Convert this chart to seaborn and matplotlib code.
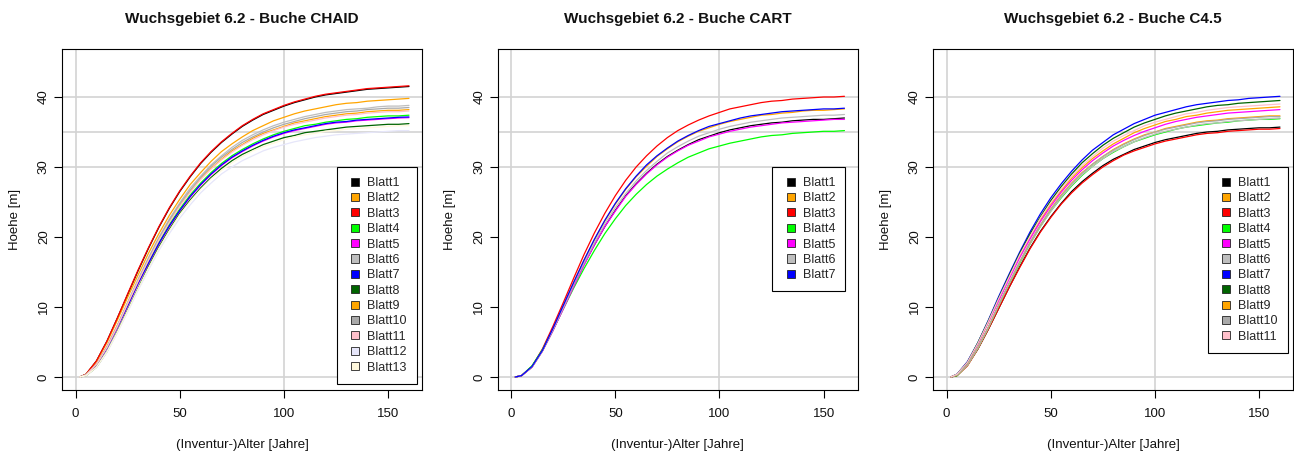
import matplotlib
matplotlib.use("Agg")
import matplotlib.pyplot as plt
import pandas as pd
import seaborn as sns
from matplotlib.patches import Patch, Rectangle
from matplotlib.legend_handler import HandlerPatch

alter = [2, 5, 10, 15, 20, 25, 30, 35, 40, 45, 50, 55, 60, 65, 70, 75, 80,
         85, 90, 95, 100, 105, 110, 115, 120, 125, 130, 135, 140, 145, 150, 155, 160]

blatt_farben = ["#000000", "#FFA500", "#FF0000", "#00FF00", "#FF00FF", "#BEBEBE",
                "#0000FF", "#006400", "#FFA500", "#A9A9A9", "#FFC0CB", "#E6E6FA",
                "#FFF8DC"]

titel = ["Wuchsgebiet 6.2 - Buche CHAID",
         "Wuchsgebiet 6.2 - Buche CART",
         "Wuchsgebiet 6.2 - Buche C4.5"]

# Hoehe [m] je Blatt, CHAID-Baum (13 Blaetter)
hoehe_chaid = [
    [0, 0.4, 2.3, 5.1, 8.4, 11.8, 15.2, 18.4, 21.4, 24.1, 26.5, 28.6, 30.5, 32.1, 33.5, 34.7, 35.8, 36.7, 37.5, 38.1, 38.7, 39.2, 39.6, 40.0, 40.3, 40.5, 40.7, 40.9, 41.1, 41.2, 41.3, 41.4, 41.5],
    [0, 0.4, 2.2, 4.9, 8.1, 11.4, 14.6, 17.7, 20.5, 23.1, 25.4, 27.5, 29.2, 30.8, 32.2, 33.3, 34.3, 35.2, 35.9, 36.6, 37.1, 37.6, 38.0, 38.3, 38.6, 38.9, 39.1, 39.2, 39.4, 39.5, 39.6, 39.7, 39.8],
    [0, 0.4, 2.3, 5.1, 8.4, 11.9, 15.3, 18.5, 21.5, 24.2, 26.6, 28.7, 30.6, 32.2, 33.6, 34.8, 35.9, 36.8, 37.6, 38.2, 38.8, 39.3, 39.7, 40.1, 40.4, 40.6, 40.8, 41.0, 41.2, 41.3, 41.4, 41.5, 41.6],
    [0, 0.3, 1.7, 4.2, 7.1, 10.3, 13.4, 16.5, 19.2, 21.8, 24.0, 26.0, 27.7, 29.2, 30.5, 31.6, 32.5, 33.3, 34.0, 34.6, 35.1, 35.5, 35.9, 36.1, 36.4, 36.6, 36.8, 36.9, 37.1, 37.2, 37.3, 37.3, 37.4],
    [0, 0.3, 1.7, 4.1, 7.0, 10.1, 13.3, 16.2, 19.0, 21.5, 23.7, 25.7, 27.4, 28.9, 30.2, 31.3, 32.2, 33.0, 33.7, 34.3, 34.8, 35.2, 35.5, 35.8, 36.1, 36.3, 36.4, 36.6, 36.7, 36.8, 36.9, 37.0, 37.05],
    [0, 0.3, 1.8, 4.3, 7.4, 10.7, 14.0, 17.1, 20.0, 22.6, 24.9, 27.0, 28.7, 30.3, 31.6, 32.8, 33.8, 34.6, 35.3, 35.9, 36.4, 36.8, 37.2, 37.5, 37.8, 38.0, 38.2, 38.3, 38.4, 38.6, 38.7, 38.7, 38.8],
    [0, 0.3, 1.7, 4.1, 7.1, 10.2, 13.4, 16.3, 19.1, 21.6, 23.8, 25.8, 27.5, 29.0, 30.3, 31.4, 32.3, 33.1, 33.8, 34.4, 34.9, 35.3, 35.6, 35.9, 36.2, 36.4, 36.5, 36.7, 36.8, 36.9, 37.0, 37.1, 37.15],
    [0, 0.2, 1.4, 3.6, 6.5, 9.6, 12.7, 15.8, 18.6, 21.1, 23.4, 25.3, 27.0, 28.5, 29.8, 30.9, 31.8, 32.5, 33.2, 33.7, 34.2, 34.5, 34.9, 35.1, 35.3, 35.5, 35.7, 35.8, 35.9, 36.0, 36.1, 36.1, 36.2],
    [0, 0.3, 1.8, 4.3, 7.3, 10.5, 13.7, 16.8, 19.7, 22.2, 24.5, 26.5, 28.3, 29.8, 31.1, 32.3, 33.2, 34.1, 34.8, 35.3, 35.8, 36.3, 36.6, 36.9, 37.2, 37.4, 37.6, 37.7, 37.9, 38.0, 38.1, 38.1, 38.2],
    [0, 0.3, 1.8, 4.3, 7.3, 10.6, 13.8, 16.9, 19.8, 22.4, 24.7, 26.7, 28.5, 30.1, 31.4, 32.5, 33.5, 34.3, 35.0, 35.6, 36.1, 36.5, 36.9, 37.2, 37.5, 37.7, 37.9, 38.0, 38.2, 38.3, 38.4, 38.4, 38.5],
    [0, 0.3, 1.8, 4.2, 7.2, 10.5, 13.7, 16.7, 19.6, 22.1, 24.4, 26.4, 28.2, 29.7, 31.0, 32.1, 33.1, 33.9, 34.6, 35.2, 35.7, 36.1, 36.4, 36.7, 37.0, 37.2, 37.4, 37.5, 37.7, 37.8, 37.9, 37.9, 38.0],
    [0, 0.2, 1.4, 3.5, 6.3, 9.3, 12.4, 15.3, 18.1, 20.5, 22.7, 24.6, 26.3, 27.7, 29.0, 30.0, 30.9, 31.6, 32.3, 32.8, 33.2, 33.6, 33.9, 34.2, 34.4, 34.6, 34.7, 34.8, 34.9, 35.0, 35.1, 35.2, 35.2],
    [0, 0.2, 1.4, 3.6, 6.4, 9.5, 12.6, 15.6, 18.4, 20.9, 23.2, 25.1, 26.8, 28.3, 29.5, 30.6, 31.5, 32.3, 32.9, 33.4, 33.9, 34.3, 34.6, 34.8, 35.1, 35.2, 35.4, 35.5, 35.6, 35.7, 35.8, 35.9, 35.9],
]

# Hoehe [m] je Blatt, CART-Baum (7 Blaetter)
hoehe_cart = [
    [0, 0.2, 1.4, 3.7, 6.6, 9.8, 13.0, 16.1, 18.9, 21.5, 23.8, 25.9, 27.6, 29.1, 30.4, 31.5, 32.4, 33.2, 33.9, 34.4, 34.9, 35.3, 35.6, 35.9, 36.1, 36.3, 36.4, 36.6, 36.7, 36.8, 36.8, 36.9, 37.0],
    [0, 0.2, 1.5, 3.8, 6.8, 10.1, 13.5, 16.7, 19.6, 22.3, 24.7, 26.8, 28.6, 30.1, 31.5, 32.6, 33.6, 34.4, 35.1, 35.6, 36.1, 36.5, 36.8, 37.1, 37.4, 37.5, 37.7, 37.8, 38.0, 38.1, 38.1, 38.2, 38.3],
    [0, 0.2, 1.5, 4.0, 7.2, 10.6, 14.1, 17.5, 20.6, 23.4, 25.9, 28.1, 30.0, 31.6, 33.0, 34.2, 35.2, 36.0, 36.7, 37.3, 37.8, 38.3, 38.6, 38.9, 39.2, 39.4, 39.5, 39.7, 39.8, 39.9, 40.0, 40.0, 40.1],
    [0, 0.2, 1.6, 3.9, 6.7, 9.7, 12.7, 15.5, 18.1, 20.5, 22.6, 24.5, 26.1, 27.5, 28.7, 29.7, 30.6, 31.4, 32.0, 32.6, 33.0, 33.4, 33.7, 34.0, 34.3, 34.5, 34.6, 34.8, 34.9, 35.0, 35.1, 35.1, 35.2],
    [0, 0.2, 1.4, 3.7, 6.6, 9.7, 12.9, 16.0, 18.9, 21.5, 23.7, 25.8, 27.5, 29.0, 30.3, 31.4, 32.3, 33.1, 33.7, 34.3, 34.7, 35.1, 35.4, 35.7, 35.9, 36.1, 36.3, 36.4, 36.5, 36.6, 36.7, 36.8, 36.8],
    [0, 0.2, 1.4, 3.7, 6.7, 9.9, 13.2, 16.3, 19.2, 21.9, 24.2, 26.2, 28.0, 29.5, 30.8, 32.0, 32.9, 33.7, 34.4, 34.9, 35.4, 35.8, 36.1, 36.4, 36.6, 36.8, 37.0, 37.1, 37.2, 37.3, 37.4, 37.4, 37.5],
    [0, 0.2, 1.5, 3.8, 6.9, 10.2, 13.5, 16.7, 19.7, 22.4, 24.8, 26.9, 28.7, 30.3, 31.6, 32.7, 33.7, 34.5, 35.2, 35.8, 36.2, 36.6, 37.0, 37.3, 37.5, 37.7, 37.9, 38.0, 38.1, 38.2, 38.3, 38.3, 38.4],
]

# Hoehe [m] je Blatt, C4.5-Baum (11 Blaetter)
hoehe_c45 = [
    [0, 0.2, 1.7, 4.0, 6.8, 9.8, 12.8, 15.7, 18.4, 20.8, 22.9, 24.8, 26.5, 27.9, 29.1, 30.2, 31.1, 31.8, 32.5, 33.0, 33.5, 33.9, 34.2, 34.5, 34.8, 35.0, 35.1, 35.3, 35.4, 35.5, 35.6, 35.6, 35.7],
    [0, 0.3, 2.1, 4.7, 7.8, 11.0, 14.2, 17.2, 19.9, 22.4, 24.7, 26.6, 28.4, 29.9, 31.2, 32.3, 33.3, 34.1, 34.9, 35.5, 36.0, 36.5, 36.8, 37.2, 37.4, 37.7, 37.9, 38.1, 38.2, 38.3, 38.4, 38.5, 38.6],
    [0, 0.2, 1.6, 4.0, 6.8, 9.8, 12.8, 15.6, 18.3, 20.7, 22.8, 24.7, 26.3, 27.7, 28.9, 30.0, 30.9, 31.7, 32.3, 32.8, 33.3, 33.7, 34.0, 34.3, 34.6, 34.8, 34.9, 35.1, 35.2, 35.3, 35.4, 35.4, 35.5],
    [0, 0.2, 1.7, 4.1, 7.0, 10.2, 13.3, 16.2, 19.0, 21.5, 23.7, 25.6, 27.3, 28.8, 30.1, 31.2, 32.1, 32.9, 33.6, 34.1, 34.6, 35.0, 35.4, 35.7, 35.9, 36.1, 36.3, 36.4, 36.6, 36.7, 36.8, 36.8, 36.9],
    [0, 0.3, 2.1, 4.7, 7.8, 10.9, 14.0, 17.0, 19.7, 22.2, 24.4, 26.4, 28.1, 29.6, 30.9, 32.0, 33.0, 33.8, 34.5, 35.1, 35.6, 36.1, 36.5, 36.8, 37.1, 37.3, 37.5, 37.7, 37.8, 37.9, 38.0, 38.1, 38.2],
    [0, 0.3, 1.7, 4.1, 7.0, 10.2, 13.3, 16.3, 19.0, 21.5, 23.7, 25.7, 27.4, 28.9, 30.1, 31.2, 32.2, 32.9, 33.6, 34.2, 34.7, 35.1, 35.4, 35.7, 36.0, 36.2, 36.3, 36.5, 36.6, 36.7, 36.8, 36.9, 37.0],
    [0, 0.4, 2.2, 4.9, 8.1, 11.5, 14.7, 17.8, 20.7, 23.3, 25.6, 27.6, 29.4, 31.0, 32.4, 33.5, 34.6, 35.4, 36.2, 36.8, 37.4, 37.8, 38.2, 38.6, 38.9, 39.1, 39.3, 39.5, 39.6, 39.8, 39.9, 40.0, 40.1],
    [0, 0.4, 2.1, 4.9, 8.0, 11.3, 14.5, 17.6, 20.4, 22.9, 25.2, 27.2, 29.0, 30.6, 31.9, 33.1, 34.1, 34.9, 35.7, 36.3, 36.8, 37.3, 37.7, 38.0, 38.3, 38.6, 38.8, 38.9, 39.1, 39.2, 39.3, 39.4, 39.5],
    [0, 0.3, 1.7, 4.2, 7.1, 10.3, 13.4, 16.4, 19.2, 21.7, 24.0, 26.0, 27.7, 29.2, 30.4, 31.5, 32.5, 33.3, 34.0, 34.6, 35.0, 35.5, 35.8, 36.1, 36.4, 36.6, 36.7, 36.9, 37.0, 37.1, 37.2, 37.3, 37.3],
    [0, 0.3, 1.7, 4.2, 7.1, 10.3, 13.4, 16.4, 19.2, 21.7, 23.9, 25.9, 27.6, 29.1, 30.4, 31.5, 32.4, 33.2, 33.9, 34.5, 35.0, 35.4, 35.7, 36.0, 36.3, 36.5, 36.6, 36.8, 36.9, 37.0, 37.1, 37.2, 37.2],
    [0, 0.4, 2.1, 4.8, 7.9, 11.2, 14.3, 17.4, 20.1, 22.7, 24.9, 26.9, 28.7, 30.2, 31.5, 32.7, 33.7, 34.5, 35.2, 35.9, 36.4, 36.8, 37.2, 37.6, 37.8, 38.1, 38.3, 38.5, 38.6, 38.7, 38.8, 38.9, 39.0],
]

x_ticks = [0, 50, 100, 150]
y_ticks = [0, 10, 20, 30, 40]
grid_x = [0, 100]
grid_y = [0, 30, 35, 40]

sns.set_theme(style="ticks")
plt.rcParams["font.family"] = ["Liberation Sans", "DejaVu Sans"]

W, H = 1294, 457
fig = plt.figure(figsize=(W / 100, H / 100), dpi=100)

ax_left_px = [62.3, 497.8, 933.3]
ax_w_px = 360.0
ax_top_px, ax_bot_px = 49.4, 389.6


def long_frame(hoehen):
    rows = []
    for i, werte in enumerate(hoehen):
        for a, h in zip(alter, werte):
            rows.append({"Alter": a, "Hoehe": h, "Blatt": f"Blatt{i + 1}"})
    return pd.DataFrame(rows)


def square_patch(legend, orig_handle, xdescent, ydescent, width, height, fontsize):
    s = 5.8
    return Rectangle((-xdescent + width - s, -ydescent + (height - s) / 2), s, s)


for k, hoehen in enumerate([hoehe_chaid, hoehe_cart, hoehe_c45]):
    left = ax_left_px[k]
    ax = fig.add_axes([left / W, 1 - ax_bot_px / H, ax_w_px / W,
                       (ax_bot_px - ax_top_px) / H])
    df = long_frame(hoehen)
    namen = [f"Blatt{i + 1}" for i in range(len(hoehen))]
    farben = blatt_farben[:len(hoehen)]

    for gx in grid_x:
        ax.axvline(gx, color="#D3D3D3", lw=1.2, zorder=0.5)
    for gy in grid_y:
        ax.axhline(gy, color="#D3D3D3", lw=1.2, zorder=0.5)

    sns.lineplot(data=df, x="Alter", y="Hoehe", hue="Blatt", hue_order=namen,
                 palette=farben, legend=False, ax=ax, linewidth=0.9,
                 estimator=None, sort=False)

    ax.set_xlim(-6.4, 166.4)
    ax.set_ylim(-1.8, 46.8)
    ax.set_xticks(x_ticks)
    ax.set_yticks(y_ticks)
    ax.set_xticklabels([str(t) for t in x_ticks])
    ax.set_yticklabels([str(t) for t in y_ticks], rotation=90, va="center")
    ax.tick_params(axis="both", direction="out", length=5.8, width=0.8,
                   color="black", labelsize=9.5, labelcolor="#111111")
    ax.tick_params(axis="x", pad=7.8)
    ax.tick_params(axis="y", pad=3.1)
    ax.set_xlabel("")
    ax.set_ylabel("")
    for sp in ax.spines.values():
        sp.set_color("black")
        sp.set_linewidth(0.8)

    handles = [Patch(facecolor=c, edgecolor="#222222", linewidth=0.6) for c in farben]
    leg = ax.legend(handles, namen, loc="upper left", bbox_to_anchor=(0.762, 0.6543),
                    borderaxespad=0, frameon=True, fancybox=False, framealpha=1,
                    edgecolor="black", fontsize=9, handlelength=1.0,
                    handleheight=0.7, handletextpad=0.67, labelspacing=0.27,
                    borderpad=0.8,
                    handler_map={Patch: HandlerPatch(patch_func=square_patch)})
    leg.get_frame().set_linewidth(0.8)
    leg.set_zorder(5)

    cx = (left + ax_w_px / 2) / W
    fig.text(cx, 1 - 19 / H, titel[k], ha="center", va="center",
             fontsize=11, fontweight="bold", color="#111111")
    fig.text(cx, 1 - 445 / H, "(Inventur-)Alter [Jahre]", ha="center",
             va="center", fontsize=9.5, color="#111111")
    fig.text((left - 47.3) / W, 1 - (ax_top_px + ax_bot_px) / 2 / H, "Hoehe [m]",
             ha="center", va="center", rotation=90, fontsize=9.5, color="#111111")

fig.savefig("out.png", dpi=100, facecolor="white")
